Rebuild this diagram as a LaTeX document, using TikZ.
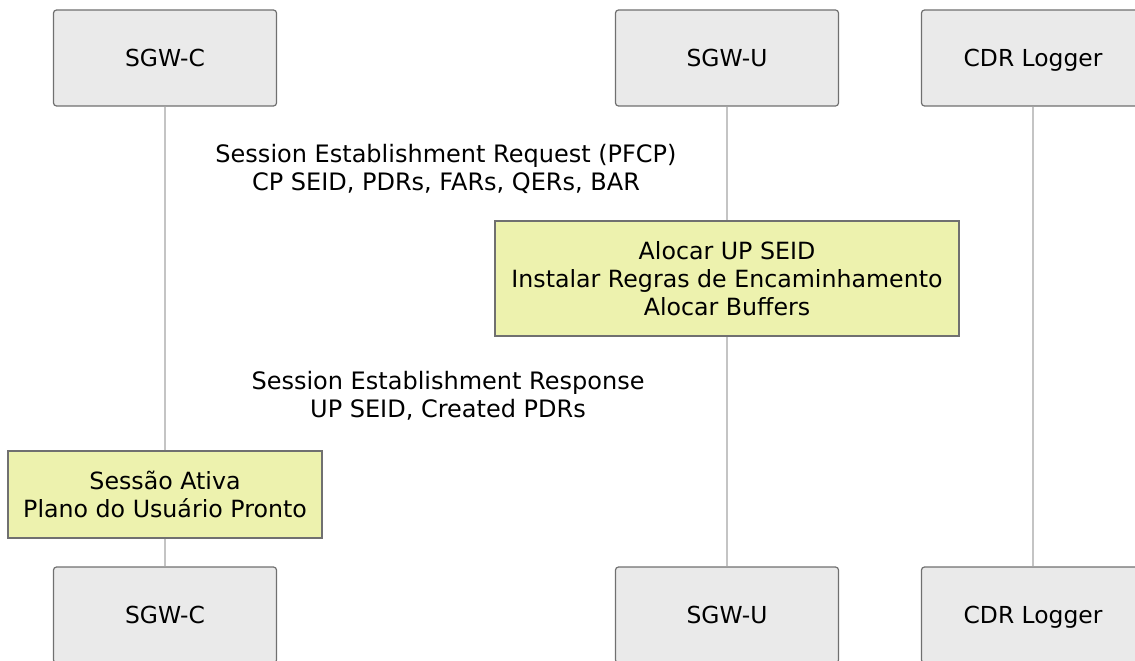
\documentclass[tikz,border=0pt]{standalone}
\usepackage{fontspec}
\setmainfont{DejaVu Sans}
\definecolor{actorfill}{HTML}{EAEAEA}
\definecolor{actorline}{HTML}{707070}
\definecolor{notefill}{HTML}{EDF2AE}
\definecolor{lifegray}{HTML}{C4C4C4}
\begin{document}
\begin{tikzpicture}[x=1pt,y=-1pt,
	actor/.style={draw=actorline,fill=actorfill,line width=1.2pt,rounded corners=3pt,minimum width=223pt,minimum height=96pt,text depth=0pt,font=\fontsize{23.4}{28}\selectfont},
	note/.style={draw=actorline,fill=notefill,line width=1.2pt,align=center,font=\fontsize{23.7}{28}\selectfont},
	msg/.style={align=center,inner sep=0pt,font=\fontsize{24}{28}\selectfont},
	lifeline/.style={draw=lifegray,line width=1.2pt}]
	\useasboundingbox (0,0) rectangle (1135,661);
	% actors
	\node[actor] (cTop) at (165,58){SGW-C};
	\node[actor] (uTop) at (727,58){SGW-U};
	\node[actor] (lTop) at (1033,58){CDR Logger};
	\node[actor] (cBot) at (165,615){SGW-C};
	\node[actor] (uBot) at (727,615){SGW-U};
	\node[actor] (lBot) at (1033,615){CDR Logger};
	\draw[lifeline] (cTop) -- (cBot);
	\draw[lifeline] (uTop) -- (uBot);
	\draw[lifeline] (lTop) -- (lBot);
	% messages
	\node[msg] (req) at (446,169){Session Establishment Request (PFCP)\\CP SEID, PDRs, FARs, QERs, BAR};
	\node[note,minimum width=464pt,minimum height=115pt] (alloc) at (727,278.5){Alocar UP SEID\\Instalar Regras de Encaminhamento\\Alocar Buffers};
	\node[msg] (resp) at (448,396){Session Establishment Response\\UP SEID, Created PDRs};
	\node[note,minimum width=314pt,minimum height=87pt] (ativa) at (165,494.5){Sessão Ativa\\Plano do Usuário Pronto};
\end{tikzpicture}
\end{document}
